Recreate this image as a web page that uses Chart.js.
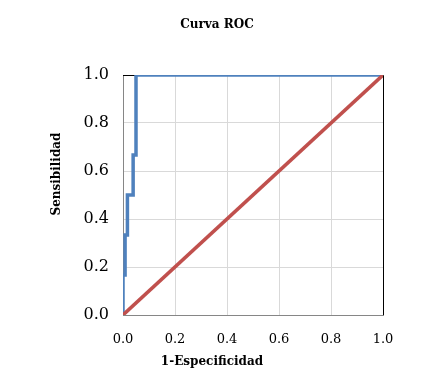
<!DOCTYPE html>
<html>
<head>
<meta charset="utf-8">
<script src="https://cdn.jsdelivr.net/npm/chart.js@4"></script>
<style>
  html, body { margin: 0; padding: 0; background: #fff; }
  #wrap { width: 448px; height: 378px; }
</style>
</head>
<body>
<div id="wrap"><canvas id="roc"></canvas></div>
<script>
// ROC curve points (1-especificidad, sensibilidad)
const fpr = [0, 0, 0.008, 0.008, 0.017, 0.017, 0.039, 0.039, 0.05, 0.05, 1];
const tpr = [0, 0.167, 0.167, 0.333, 0.333, 0.5, 0.5, 0.667, 0.667, 1, 1];
// reference diagonal
const diagX = [0, 1];
const diagY = [0, 1];
const tickValues = [0, 0.2, 0.4, 0.6, 0.8, 1.0];

const chartTitle = 'Curva ROC';
const xTitle = '1-Especificidad';
const yTitle = 'Sensibilidad';

const toPoints = (xs, ys) => xs.map((x, i) => ({ x: x, y: ys[i] }));
const edgeless = (ctx) => (ctx.tick && (ctx.tick.value === 0 || ctx.tick.value === 1)) ? 'rgba(0,0,0,0)' : '#d9d9d9';

// top/right black border and hand-placed titles
const frame = {
    id: 'frame',
    beforeDatasetsDraw(chart) {
        const { ctx, chartArea: a } = chart;
        ctx.save();
        ctx.lineWidth = 1;
        ctx.strokeStyle = '#000';
        ctx.beginPath();
        ctx.moveTo(a.left, a.top + 0.5);
        ctx.lineTo(a.right + 0.5, a.top + 0.5);
        ctx.lineTo(a.right + 0.5, a.bottom);
        ctx.stroke();
        ctx.restore();
    },
    afterDraw(chart) {
        const ctx = chart.ctx;
        ctx.save();
        ctx.fillStyle = '#000';
        ctx.font = "bold 12px 'DejaVu Serif'";
        ctx.textAlign = 'center';
        ctx.textBaseline = 'middle';
        ctx.fillText(chartTitle, 217, 25);
        ctx.fillText(xTitle, 212, 362);
        ctx.translate(57, 174);
        ctx.rotate(-Math.PI / 2);
        ctx.fillText(yTitle, 0, 0);
        ctx.restore();
    }
};

new Chart(document.getElementById('roc'), {
    type: 'scatter',
    data: {
        datasets: [
            {
                label: 'ROC',
                data: toPoints(fpr, tpr),
                showLine: true,
                borderColor: '#4f81bd',
                borderWidth: 3.5,
                pointRadius: 0,
                tension: 0,
                clip: 0,
                order: 1
            },
            {
                label: 'Referencia',
                data: toPoints(diagX, diagY),
                showLine: true,
                borderColor: '#c0504d',
                borderWidth: 3.5,
                pointRadius: 0,
                clip: 0,
                order: 0
            }
        ]
    },
    options: {
        responsive: true,
        maintainAspectRatio: false,
        animation: false,
        layout: { padding: { left: 0, right: 65, top: 75, bottom: 0 } },
        plugins: {
            legend: { display: false },
            tooltip: { enabled: false }
        },
        scales: {
            x: {
                type: 'linear',
                min: 0,
                max: 1,
                afterBuildTicks: (s) => { s.ticks = tickValues.map(v => ({ value: v })); },
                afterFit: (s) => { s.height = 63; },
                grid: { color: edgeless, drawTicks: false },
                border: { color: '#868686' },
                ticks: {
                    padding: 17,
                    color: '#000',
                    font: { family: 'DejaVu Serif', size: 13 },
                    callback: v => v.toFixed(1)
                }
            },
            y: {
                type: 'linear',
                min: 0,
                max: 1,
                afterBuildTicks: (s) => { s.ticks = tickValues.map(v => ({ value: v })); },
                afterFit: (s) => { s.width = 123; },
                grid: { color: edgeless, drawTicks: false },
                border: { color: '#868686' },
                ticks: {
                    padding: 14,
                    color: '#000',
                    font: { family: 'DejaVu Serif', size: 16 },
                    callback: v => v.toFixed(1)
                }
            }
        }
    },
    plugins: [frame]
});
</script>
</body>
</html>
